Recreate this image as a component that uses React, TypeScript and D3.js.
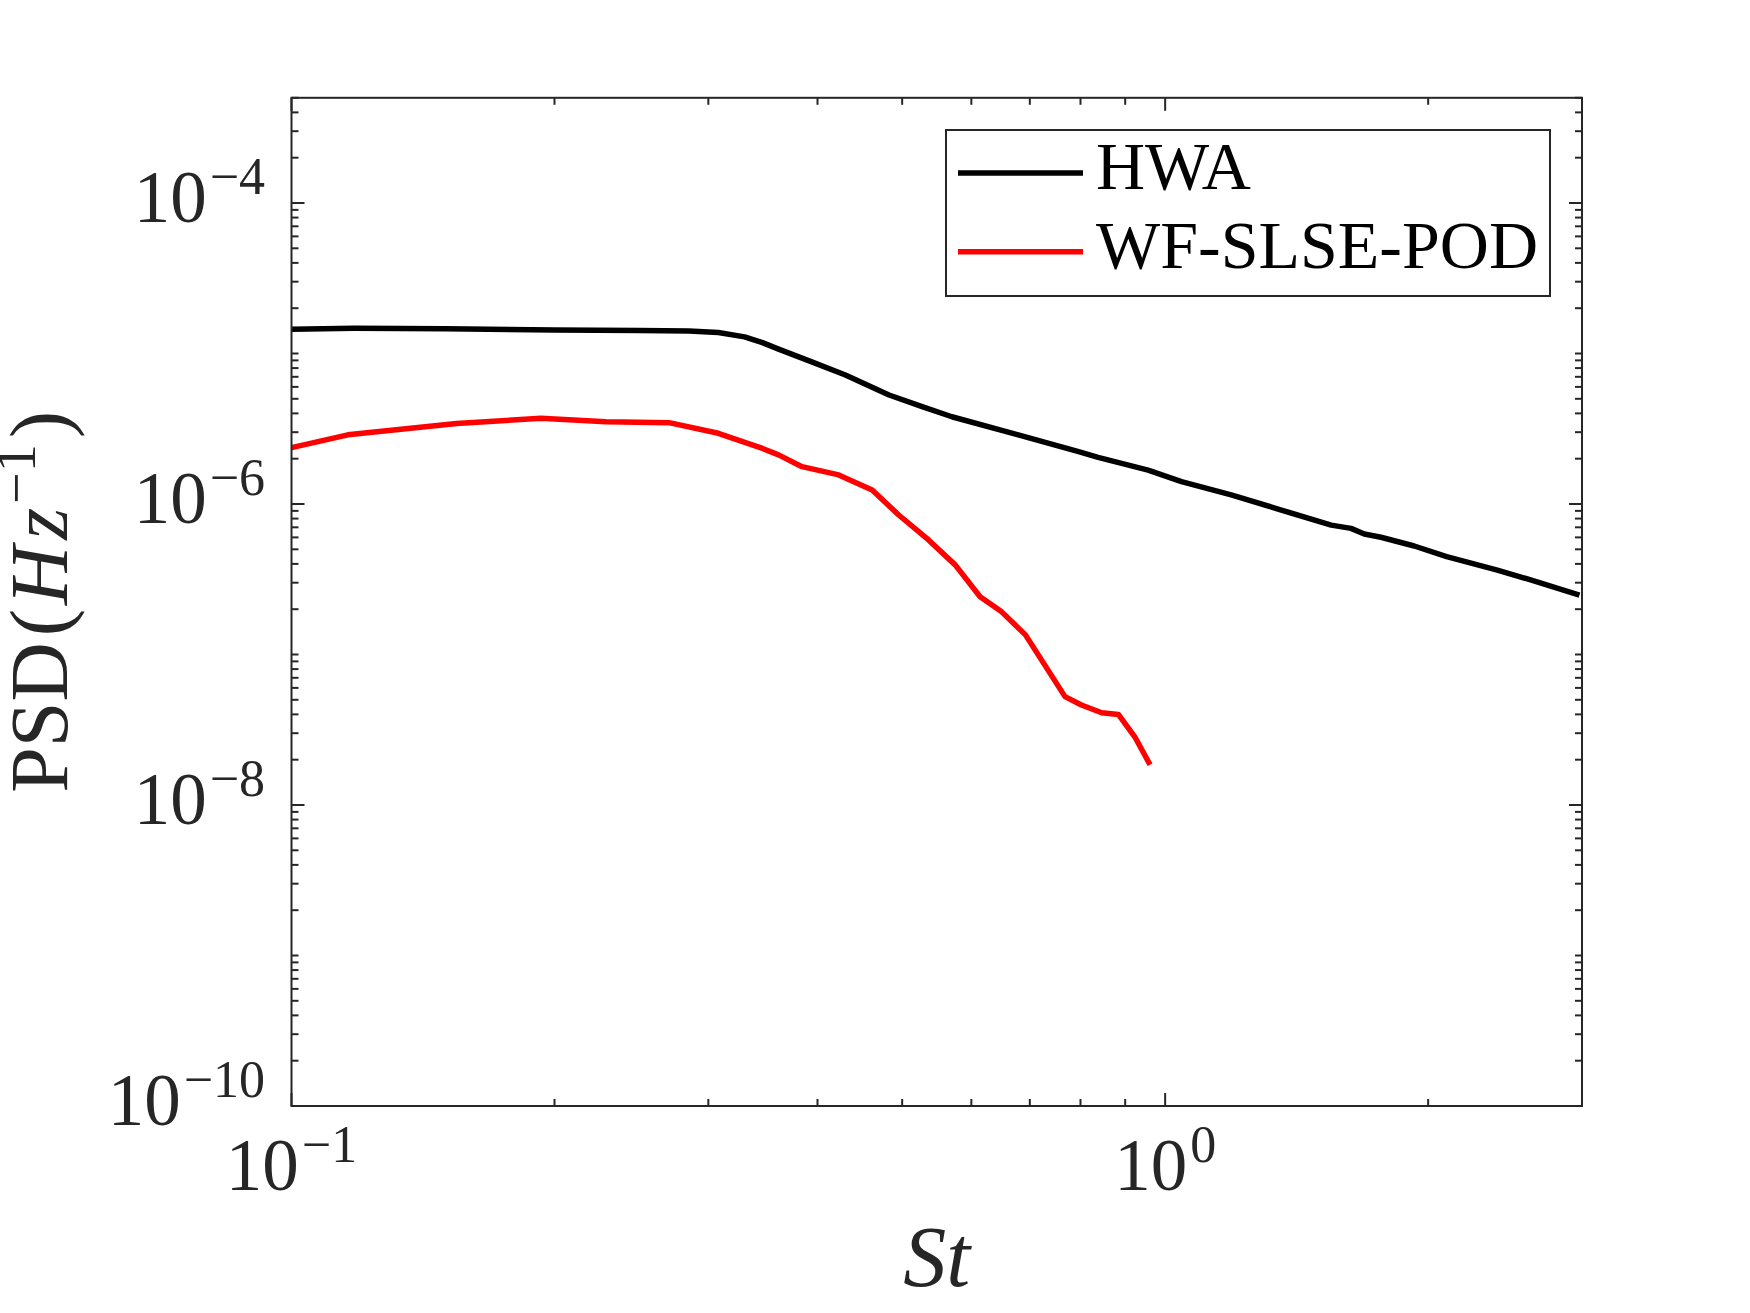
import React from "react";
import * as d3 from "d3";

// ---- data ----
const hwaSt = [0.1, 0.118, 0.15, 0.2, 0.25, 0.285, 0.308, 0.33, 0.346, 0.361, 0.394, 0.4305, 0.483, 0.527, 0.57, 0.679, 0.796, 0.838, 0.956, 1.044, 1.19, 1.358, 1.549, 1.632, 1.69, 1.766, 1.928, 2.1, 2.4, 2.62, 2.98];
const hwaPsd = [1.45e-5, 1.47e-5, 1.46e-5, 1.43e-5, 1.42e-5, 1.41e-5, 1.38e-5, 1.29e-5, 1.18e-5, 1.07e-5, 8.8e-6, 7.2e-6, 5.3e-6, 4.43e-6, 3.8e-6, 2.88e-6, 2.23e-6, 2.04e-6, 1.68e-6, 1.41e-6, 1.15e-6, 9.12e-7, 7.24e-7, 6.89e-7, 6.32e-7, 6.01e-7, 5.26e-7, 4.47e-7, 3.64e-7, 3.13e-7, 2.48e-7];

const podSt = [0.1, 0.116, 0.1545, 0.193, 0.229, 0.2705, 0.308, 0.346, 0.361, 0.384, 0.423, 0.462, 0.4955, 0.536, 0.575, 0.614, 0.65, 0.692, 0.768, 0.802, 0.846, 0.884, 0.923, 0.961];
const podPsd = [2.37e-6, 2.88e-6, 3.43e-6, 3.71e-6, 3.52e-6, 3.47e-6, 2.95e-6, 2.34e-6, 2.12e-6, 1.77e-6, 1.56e-6, 1.24e-6, 8.45e-7, 5.77e-7, 3.94e-7, 2.42e-7, 1.92e-7, 1.35e-7, 5.25e-8, 4.62e-8, 4.1e-8, 4.0e-8, 2.84e-8, 1.85e-8];

const seriesNames = ["HWA", "WF-SLSE-POD"];
const seriesColors = ["#000000", "#ff0000"];

const xDomain = [0.1, 3];
const yDomain = [1e-10, 5e-4];
const xMajor = [0.1, 1];
const xMajorExp = ["−1", "0"];
const yMajor = [1e-10, 1e-8, 1e-6, 1e-4];
const yMajorExp = ["−10", "−8", "−6", "−4"];

const W = 1750;
const H = 1313;
const L = 291.5, R = 1582, T = 97.8, B = 1106;
const AX = "#262626";
const FONT = "'Liberation Serif', 'Times New Roman', serif";

export default function App() {
  const x = d3.scaleLog().domain(xDomain).range([L, R]);
  const y = d3.scaleLog().domain(yDomain).range([B, T]);

  const line = d3
    .line<[number, number]>()
    .x((d) => x(d[0]))
    .y((d) => y(d[1]));

  const hwa = hwaSt.map((s, i) => [s, hwaPsd[i]] as [number, number]);
  const pod = podSt.map((s, i) => [s, podPsd[i]] as [number, number]);

  // minor ticks
  const xMinor: number[] = [];
  for (let e = -1; e <= 0; e++) {
    for (let k = 2; k <= 9; k++) {
      const v = k * Math.pow(10, e);
      if (v <= xDomain[1] + 1e-9) xMinor.push(v);
    }
  }
  const yMinor: number[] = [];
  for (let e = -10; e <= -4; e++) {
    for (let k = 1; k <= 9; k++) {
      const v = k * Math.pow(10, e);
      if (v > yDomain[1] * 1.0001) continue;
      if (k === 1 && yMajor.some((m) => Math.abs(m - v) / v < 1e-6)) continue;
      yMinor.push(v);
    }
  }

  const majLen = 13;
  const minLen = 7;

  return (
    <div style={{ position: "absolute", left: 0, top: 0 }}>
      <svg width={W} height={H} viewBox={`0 0 ${W} ${H}`} style={{ display: "block", background: "#fff" }}>
        <rect x={0} y={0} width={W} height={H} fill="#fff" />
        <defs>
          <clipPath id="clip">
            <rect x={L} y={T} width={R - L} height={B - T} />
          </clipPath>
        </defs>
        {/* data lines */}
        <g clipPath="url(#clip)">
          <path d={line(hwa) || ""} fill="none" stroke={seriesColors[0]} strokeWidth={5.5} strokeLinejoin="round" />
          <path d={line(pod) || ""} fill="none" stroke={seriesColors[1]} strokeWidth={5.5} strokeLinejoin="round" />
        </g>

        {/* ticks */}
        <g stroke={AX} strokeWidth={2}>
          {xMajor.map((v, i) => (
            <g key={"xM" + i}>
              <line x1={x(v)} x2={x(v)} y1={B} y2={B - majLen} />
              <line x1={x(v)} x2={x(v)} y1={T} y2={T + majLen} />
            </g>
          ))}
          {xMinor.map((v, i) => (
            <g key={"xm" + i}>
              <line x1={x(v)} x2={x(v)} y1={B} y2={B - minLen} />
              <line x1={x(v)} x2={x(v)} y1={T} y2={T + minLen} />
            </g>
          ))}
          {yMajor.map((v, i) => (
            <g key={"yM" + i}>
              <line x1={L} x2={L + majLen} y1={y(v)} y2={y(v)} />
              <line x1={R} x2={R - majLen} y1={y(v)} y2={y(v)} />
            </g>
          ))}
          {yMinor.map((v, i) => (
            <g key={"ym" + i}>
              <line x1={L} x2={L + minLen} y1={y(v)} y2={y(v)} />
              <line x1={R} x2={R - minLen} y1={y(v)} y2={y(v)} />
            </g>
          ))}
        </g>

        {/* axes box */}
        <rect x={L} y={T} width={R - L} height={B - T} fill="none" stroke={AX} strokeWidth={2} />

        {/* tick labels */}
        <g fill={AX} fontFamily={FONT}>
          {yMajor.map((v, i) => (
            <text key={"yl" + i} x={265} y={y(v) + 19} textAnchor="end" fontSize={73}>
              <tspan>10</tspan>
              <tspan dy={-28} dx={3} fontSize={52}>{yMajorExp[i]}</tspan>
            </text>
          ))}
          {xMajor.map((v, i) => (
            <text key={"xl" + i} x={x(v)} y={1190} textAnchor="middle" fontSize={73}>
              <tspan>10</tspan>
              <tspan dy={-28} dx={3} fontSize={52}>{xMajorExp[i]}</tspan>
            </text>
          ))}
        </g>

        {/* axis labels */}
        <text x={x(Math.sqrt(xDomain[0] * xDomain[1]))} y={1286} textAnchor="middle" fontFamily={FONT} fontSize={86} fontStyle="italic" fill={AX}>
          St
        </text>
        <text
          transform={`translate(67, ${(T + B) / 2}) rotate(-90)`}
          textAnchor="middle"
          fontFamily={FONT}
          fontSize={82}
          fill={AX}
        >
          <tspan>PSD</tspan>
          <tspan dx={6}>(</tspan>
          <tspan fontStyle="italic" dx={4}>H</tspan>
          <tspan fontStyle="italic" dx={6}>z</tspan>
          <tspan fontSize={56} dy={-32} dx={4}>−1</tspan>
          <tspan dy={32} dx={6}>)</tspan>
        </text>

        {/* legend */}
        <rect x={946} y={130} width={604} height={166} fill="#fff" stroke={AX} strokeWidth={2} />
        {seriesNames.map((n, i) => {
          const ly = i === 0 ? 173 : 251.7;
          return (
            <g key={"lg" + i}>
              <line x1={958} x2={1083} y1={ly} y2={ly} stroke={seriesColors[i]} strokeWidth={5.5} />
              <text x={1096} y={ly + 16} fontFamily={FONT} fontSize={68} fill="#000">
                {n}
              </text>
            </g>
          );
        })}
      </svg>
    </div>
  );
}
